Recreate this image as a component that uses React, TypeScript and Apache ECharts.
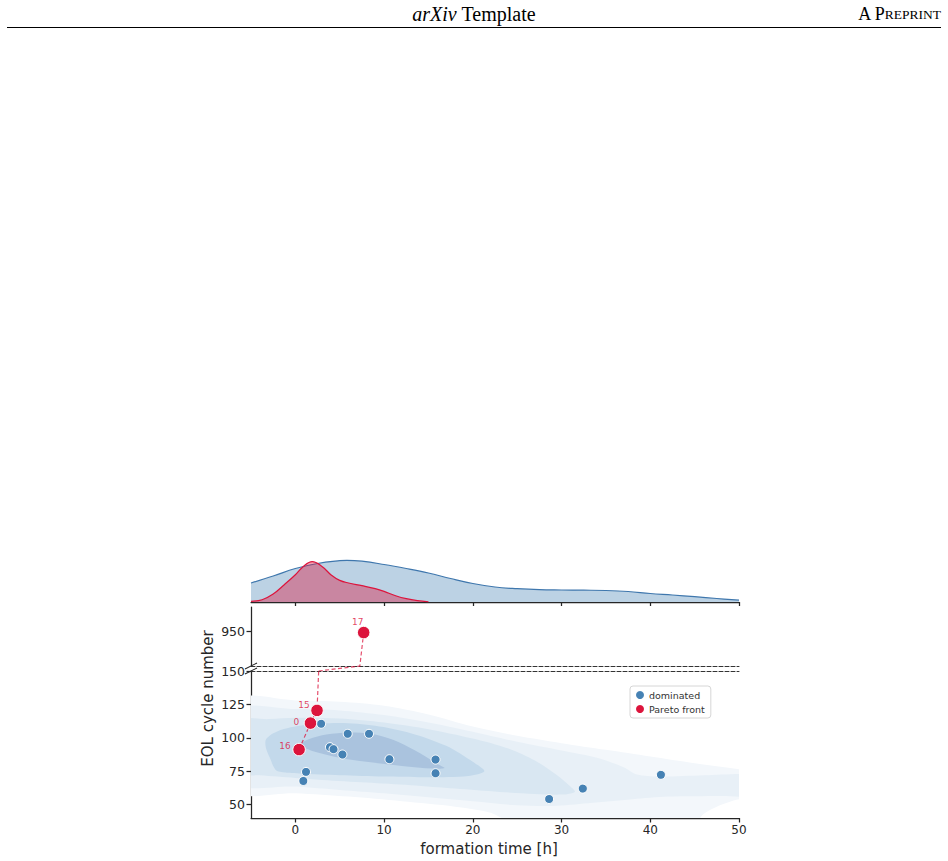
import React, { useEffect, useRef } from 'react';
import * as echarts from 'echarts';

// ---------- data ----------
const xTicks = [0, 10, 20, 30, 40, 50];
const lowerYTicks = [50, 75, 100, 125, 150];
const upperYTicks = [950];

const dominatedTime = [2.9, 5.9, 8.3, 3.9, 4.3, 5.3, 10.6, 15.8, 15.8, 1.2, 0.9, 28.6, 32.4, 41.2];
const dominatedEOL = [110.5, 103, 103, 93, 91.5, 87.5, 84, 83.7, 73.5, 74.5, 67.7, 54.2, 62, 72.3];

const paretoIds = ['16', '0', '15', '17'];
const paretoTime = [0.42, 1.7, 2.44, 7.7];
const paretoEOL = [91.2, 111, 120.5, 948];

// marginal KDE of formation time (all cells / Pareto front)
const kdeAllX = [-5, -2.5, 0, 2.5, 5, 5.8, 7.5, 10, 12.5, 15, 17.5, 20, 22.5, 25, 27.5, 30, 32.5, 35, 37.5, 40, 42.5, 45, 47.5, 50];
const kdeAllDensity = [19, 26, 33.5, 38.5, 41.3, 41.6, 40.8, 37.5, 33.5, 29, 23.5, 18.5, 15, 13.3, 12.3, 12, 11.8, 11.5, 10.5, 8.5, 7, 5.3, 3.5, 1.8];
const kdeParetoX = [-5, -3.75, -2.5, -1.25, 0, 0.9, 1.9, 3, 4, 5, 6, 7.5, 9, 10, 11.3, 12.5, 13.75, 15];
const kdeParetoDensity = [0.7, 2.3, 8, 17.3, 27.3, 35.6, 40.3, 35.6, 27.3, 21.6, 19, 16.3, 13.3, 10.6, 6.3, 3.3, 1.3, 0.2];

// 2D KDE contour outlines (formation time, EOL cycle number), outer to inner
const contourLevel1 = [[-7, 128], [0, 128], [5, 127], [10, 124], [15, 117.5], [20, 108.5], [25, 101.5], [30, 96], [35, 91], [40, 86], [45, 81], [50, 76.5], [53, 74], [53, 55], [50, 54], [47.5, 48.5], [46, 43], [45, 36], [35, 33], [25, 35], [22, 44], [18, 48.5], [12, 52.5], [6, 56], [0, 58.5], [-7, 60.5]];
const contourLevel2 = [[-7, 120.5], [0, 121.5], [5, 120.5], [10, 117], [15, 111.5], [20, 104.5], [25, 97], [30, 90.5], [34, 85], [37, 78], [38.5, 72.5], [41, 71], [46, 72], [50, 73], [53, 73], [53, 57], [48, 56.5], [42, 56], [38, 54], [33, 51], [29, 49], [25, 49.5], [20, 52.5], [15, 55.5], [10, 58.5], [5, 61], [0, 63.5], [-7, 66.5]];
const contourLevel3 = [[-7, 112.5], [-3, 114], [0, 115], [5, 114.5], [10, 111.5], [15, 106.5], [20, 99.5], [24, 92], [27, 83], [29.5, 72], [31, 63.5], [31.5, 59.5], [30, 57.5], [27, 58], [23, 59.5], [18, 62], [13, 64.5], [8, 66.5], [3, 68.5], [0, 70], [-4, 72], [-7, 73.5]];
const contourLevel4 = [[-3.3, 99], [-2, 105], [1, 109.5], [5, 111], [9, 109], [13, 103.5], [17, 94], [20, 82], [21.3, 75], [19.5, 71.5], [15, 70.5], [10, 71], [5, 72], [0.5, 73.3], [-2, 75], [-2.5, 79], [-2.8, 84], [-3.3, 92]];
const contourLevel5 = [[0.5, 95], [1.5, 99], [3.5, 102.5], [6, 104], [8.5, 103], [11, 98.5], [13.5, 90.5], [16, 80.5], [16.8, 77.5], [15.5, 77], [12, 79], [8, 82], [5, 85], [2, 90], [1, 92.5]];

const contourLevels = [contourLevel1, contourLevel2, contourLevel3, contourLevel4, contourLevel5];

// ---------- styles ----------
const contourColors = ['#f3f7fb', '#e8f0f7', '#d9e7f2', '#c3d9eb', '#aac3de'];
const AXIS = '#262626';
const FONT = 'DejaVu Sans';
const BLUE = '#4682b4';
const RED = '#dc143c';
const labelOffsets: Record<string, number[]> = { '16': [-14, -4], '0': [-14, -1], '15': [-13, -5], '17': [-6, -11] };

const X_MIN = -5, X_MAX = 50;
const LOWER_MIN = 40, LOWER_MAX = 150;
const UPPER_MIN = 880, UPPER_MAX = 1000;

function xAtY(yv: number) {
  for (let i = 0; i < paretoEOL.length - 1; i++) {
    const y0 = paretoEOL[i], y1 = paretoEOL[i + 1];
    if ((y0 - yv) * (y1 - yv) <= 0 && y0 !== y1) {
      return paretoTime[i] + (paretoTime[i + 1] - paretoTime[i]) * (yv - y0) / (y1 - y0);
    }
  }
  return paretoTime[0];
}

export default function App() {
  const ref = useRef<HTMLDivElement>(null);
  useEffect(() => {
    if (!ref.current) return;
    const chart = echarts.init(ref.current, undefined, { renderer: 'svg' });

    const zipXY = (xs: number[], ys: number[]) => xs.map((x, i) => [x, ys[i]]);
    const paretoItems = paretoTime.map((x, i) => ({
      value: [x, paretoEOL[i]],
      label: {
        show: true,
        formatter: paretoIds[i],
        position: 'inside',
        offset: labelOffsets[paretoIds[i]],
        color: 'rgba(220,20,60,0.8)',
        fontSize: 9,
        fontFamily: FONT,
      },
    }));
    const lowerPareto = paretoItems.filter((p) => p.value[1] <= LOWER_MAX);
    const upperPareto = paretoItems.filter((p) => p.value[1] >= UPPER_MIN);

    const baseX = (grid: number) => ({
      type: 'value', gridIndex: grid, min: X_MIN, max: X_MAX,
      splitLine: { show: false },
    });
    const solidLine = { show: true, onZero: false, lineStyle: { color: AXIS, width: 1.25 } };
    const dashedLine = { show: true, onZero: false, lineStyle: { color: '#333', width: 1, type: [4, 2] } };

    const option: any = {
      animation: false,
      grid: [
        { left: 251, top: 550, width: 488, height: 52 },
        { left: 251, top: 671, width: 488, height: 147 },
        { left: 251, top: 607, width: 488, height: 59 },
      ],
      xAxis: [
        { ...baseX(0), position: 'bottom', axisLine: solidLine,
          axisTick: { show: true, customValues: xTicks, length: 4, lineStyle: { color: AXIS, width: 1.25 } },
          axisLabel: { show: false } },
        { ...baseX(1), position: 'bottom', axisLine: solidLine,
          axisTick: { show: true, customValues: xTicks, length: 4.5, lineStyle: { color: AXIS, width: 1.25 } },
          axisLabel: { customValues: xTicks, color: AXIS, fontSize: 12, fontFamily: FONT, margin: 6 } },
        { ...baseX(2), position: 'bottom', axisLine: dashedLine, axisTick: { show: false }, axisLabel: { show: false } },
        { ...baseX(1), position: 'top', axisLine: dashedLine, axisTick: { show: false }, axisLabel: { show: false } },
      ],
      yAxis: [
        { type: 'value', gridIndex: 0, min: 0, max: 52, show: false, splitLine: { show: false } },
        { type: 'value', gridIndex: 1, min: LOWER_MIN, max: LOWER_MAX, axisLine: solidLine,
          splitLine: { show: false },
          axisTick: { show: true, customValues: lowerYTicks, length: 4.5, lineStyle: { color: AXIS, width: 1.25 } },
          axisLabel: { customValues: lowerYTicks, color: AXIS, fontSize: 12.5, fontFamily: FONT, margin: 6 } },
        { type: 'value', gridIndex: 2, min: UPPER_MIN, max: UPPER_MAX, axisLine: solidLine,
          splitLine: { show: false },
          axisTick: { show: true, customValues: upperYTicks, length: 4.5, lineStyle: { color: AXIS, width: 1.25 } },
          axisLabel: { customValues: upperYTicks, color: AXIS, fontSize: 12.5, fontFamily: FONT, margin: 6 } },
      ],
      legend: {
        orient: 'vertical', left: 630, top: 686,
        data: ['dominated', 'Pareto front'],
        icon: 'circle', itemWidth: 8, itemHeight: 8, itemGap: 4, itemTextGap: 7,
        padding: [4, 6, 4, 6],
        borderColor: '#d6d6d6', borderWidth: 1, borderRadius: 3,
        backgroundColor: 'rgba(255,255,255,0.8)',
        textStyle: { fontSize: 9.5, color: '#333', fontFamily: FONT },
        itemStyle: { borderWidth: 0 },
      },
      series: [
        { type: 'line', name: 'kde all', xAxisIndex: 0, yAxisIndex: 0, data: zipXY(kdeAllX, kdeAllDensity),
          smooth: 0.4, symbol: 'none', z: 1,
          lineStyle: { color: '#3f77ad', width: 1.2 }, areaStyle: { color: 'rgba(70,130,180,0.36)', opacity: 1 } },
        { type: 'line', name: 'kde pareto', xAxisIndex: 0, yAxisIndex: 0, data: zipXY(kdeParetoX, kdeParetoDensity),
          smooth: 0.4, symbol: 'none', z: 2,
          lineStyle: { color: RED, width: 1.2 }, areaStyle: { color: 'rgba(220,20,60,0.4)', opacity: 1 } },
        { type: 'custom', name: 'contours', xAxisIndex: 1, yAxisIndex: 1, clip: true, silent: true, z: 1,
          data: contourLevels.map((_, i) => [i]),
          renderItem: (params: any, api: any) => {
            const idx = api.value(0);
            const pts = contourLevels[idx].map((p) => api.coord(p));
            return { type: 'polygon', shape: { points: pts, smooth: 0.3 }, style: { fill: contourColors[idx] } };
          } },
        { type: 'line', name: 'pareto link lower', xAxisIndex: 1, yAxisIndex: 1, data: zipXY(paretoTime, paretoEOL),
          symbol: 'none', clip: true, z: 3,
          lineStyle: { color: 'rgba(220,20,60,0.75)', width: 1.2, type: [4, 2.5] } },
        { type: 'line', name: 'pareto link upper', xAxisIndex: 2, yAxisIndex: 2, data: zipXY(paretoTime, paretoEOL),
          symbol: 'none', clip: true, z: 3,
          lineStyle: { color: 'rgba(220,20,60,0.75)', width: 1.2, type: [4, 2.5] } },
        { type: 'scatter', name: 'dominated', xAxisIndex: 1, yAxisIndex: 1, data: zipXY(dominatedTime, dominatedEOL),
          symbolSize: 9, z: 4, itemStyle: { color: BLUE, borderColor: '#fff', borderWidth: 1, opacity: 1 } },
        { type: 'scatter', name: 'Pareto front', xAxisIndex: 1, yAxisIndex: 1, data: lowerPareto, clip: true,
          symbolSize: 12.5, z: 5, itemStyle: { color: RED, borderColor: '#fff', borderWidth: 1, opacity: 1 } },
        { type: 'scatter', name: 'Pareto front', xAxisIndex: 2, yAxisIndex: 2, data: upperPareto, clip: true,
          symbolSize: 12.5, z: 5, itemStyle: { color: RED, borderColor: '#fff', borderWidth: 1, opacity: 1 } },
      ],
    };
    chart.setOption(option);

    // pixel helpers through the axes
    const lowerFinder = { seriesIndex: 3 };
    const upperFinder = { seriesIndex: 4 };
    const pA = chart.convertToPixel(lowerFinder, [xAtY(LOWER_MAX), LOWER_MAX]) as number[];
    const pB = chart.convertToPixel(upperFinder, [xAtY(UPPER_MIN), UPPER_MIN]) as number[];
    const c1 = chart.convertToPixel(upperFinder, [X_MIN, UPPER_MIN]) as number[];
    const c2 = chart.convertToPixel(lowerFinder, [X_MIN, LOWER_MAX]) as number[];
    const lTop = chart.convertToPixel(upperFinder, [X_MIN, UPPER_MAX]) as number[];
    const lBot = chart.convertToPixel(lowerFinder, [X_MIN, LOWER_MIN]) as number[];
    const xMid = chart.convertToPixel(lowerFinder, [(X_MIN + X_MAX) / 2, LOWER_MIN]) as number[];

    const breakMark = (c: number[]) => ({
      type: 'line', shape: { x1: c[0] - 6, y1: c[1] + 3, x2: c[0] + 6, y2: c[1] - 3 },
      style: { stroke: AXIS, lineWidth: 1.1 }, z: 50,
    });

    chart.setOption({
      graphic: [
        { type: 'text', x: 474, y: 14, style: {
            text: '{i|arXiv} Template', fill: '#000', fontSize: 20, fontFamily: 'Liberation Serif',
            align: 'center', verticalAlign: 'middle',
            rich: { i: { fontStyle: 'italic', fontSize: 20, fontFamily: 'Liberation Serif', fill: '#000' } } } },
        { type: 'text', x: 941, y: 14, style: {
            text: '{a|A P}{b|REPRINT}', fill: '#000', fontSize: 18, fontFamily: 'Liberation Serif',
            align: 'right', verticalAlign: 'middle',
            rich: { a: { fontSize: 18, fontFamily: 'Liberation Serif', fill: '#000' },
                    b: { fontSize: 13.5, fontFamily: 'Liberation Serif', fill: '#000' } } } },
        { type: 'line', shape: { x1: 7, y1: 27.5, x2: 941, y2: 27.5 }, style: { stroke: '#000', lineWidth: 1.1 } },
        { type: 'text', x: 208, y: (lTop[1] + lBot[1]) / 2 - 14, rotation: Math.PI / 2, style: {
            text: 'EOL cycle number', fill: AXIS, fontSize: 15, fontFamily: FONT,
            align: 'center', verticalAlign: 'middle' } },
        { type: 'text', x: xMid[0] - 6, y: xMid[1] + 31, style: {
            text: 'formation time [h]', fill: AXIS, fontSize: 15, fontFamily: FONT,
            align: 'center', verticalAlign: 'middle' } },
        breakMark(c1),
        breakMark(c2),
        { type: 'line', shape: { x1: pA[0], y1: pA[1], x2: pB[0], y2: pB[1] },
          style: { stroke: 'rgba(220,20,60,0.75)', lineWidth: 1.2, lineDash: [4, 2.5] }, z: 10 },
      ],
    });

    return () => chart.dispose();
  }, []);

  return (
    <div
      ref={ref}
      style={{ position: 'absolute', left: 0, top: 0, width: 948, height: 861, background: '#fff' }}
    />
  );
}
